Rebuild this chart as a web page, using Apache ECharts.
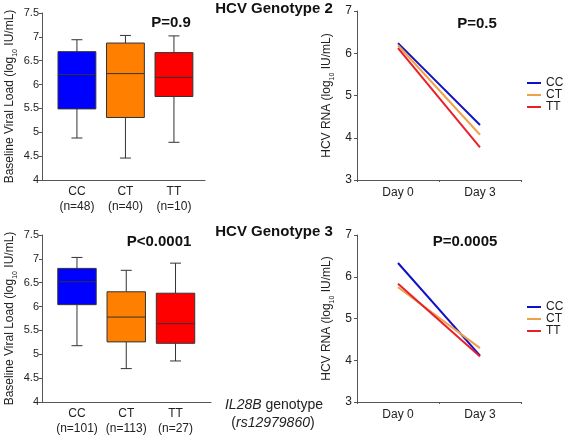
<!DOCTYPE html>
<html>
<head>
<meta charset="utf-8">
<script src="https://cdn.jsdelivr.net/npm/echarts@6/dist/echarts.min.js"></script>
<style>html,body{margin:0;padding:0;background:#fff}#c{width:563px;height:436px}</style>
</head>
<body>
<div id="c"></div>
<script>
// ---- data ----
const genotypes = ['CC', 'CT', 'TT'];
const g2Counts = ['n=48', 'n=40', 'n=10'];
const g3Counts = ['n=101', 'n=113', 'n=27'];
// [min, Q1, median, Q3, max]
const g2Box = [[4.88, 5.49, 6.21, 6.69, 6.94], [4.46, 5.31, 6.23, 6.87, 7.03], [4.79, 5.75, 6.15, 6.67, 7.02]];
const g3Box = [[5.18, 6.04, 6.52, 6.80, 7.03], [4.70, 5.26, 5.78, 6.31, 6.76], [4.86, 5.23, 5.64, 6.28, 6.91]];
const days = ['Day 0', 'Day 3'];
const g2CC = [6.24, 4.30], g2CT = [6.19, 4.07], g2TT = [6.12, 3.77];
const g3CC = [6.33, 4.11], g3CT = [5.75, 4.29], g3TT = [5.83, 4.09];
const boxTicks = [4, 4.5, 5, 5.5, 6, 6.5, 7, 7.5];
const rnaTicks = [3, 4, 5, 6, 7];

// ---- styles ----
const FONT = '"Liberation Sans", Arial, sans-serif';
const boxFill = ['#0000ff', '#ff8000', '#ff0000'];
const lineCol = ['#1010c8', '#f0a04a', '#e8202a'];
const axisCol = '#555';

const chart = echarts.init(document.getElementById('c'));

function boxData(stats) {
  return stats.map((s, i) => [i + 1].concat(s));
}
function boxSeries(idx, stats) {
  return {
    type: 'custom', xAxisIndex: idx, yAxisIndex: idx,
    data: boxData(stats),
    encode: { x: 0, y: [1, 2, 3, 4, 5] },
    renderItem: function (params, api) {
      const x = api.value(0);
      const p = [1, 2, 3, 4, 5].map(d => api.coord([x, api.value(d)]));
      const cx = p[0][0];
      const hw = api.size([0.78, 0])[0] / 2;
      const cw = 5.5;
      const col = boxFill[params.dataIndex];
      const ls = { stroke: '#333', lineWidth: 1 };
      return {
        type: 'group',
        children: [
          { type: 'line', shape: { x1: cx, y1: p[0][1], x2: cx, y2: p[1][1] }, style: ls },
          { type: 'line', shape: { x1: cx, y1: p[3][1], x2: cx, y2: p[4][1] }, style: ls },
          { type: 'line', shape: { x1: cx - cw, y1: p[0][1], x2: cx + cw, y2: p[0][1] }, style: ls },
          { type: 'line', shape: { x1: cx - cw, y1: p[4][1], x2: cx + cw, y2: p[4][1] }, style: ls },
          { type: 'rect', shape: { x: cx - hw, y: p[3][1], width: hw * 2, height: p[1][1] - p[3][1] },
            style: { fill: col, stroke: '#333', lineWidth: 1 } },
          { type: 'line', shape: { x1: cx - hw, y1: p[2][1], x2: cx + hw, y2: p[2][1] }, style: { stroke: '#333', lineWidth: 1 } }
        ]
      };
    }
  };
}

function boxXAxis(idx, counts, min, max) {
  return {
    type: 'value', gridIndex: idx, min: min, max: max,
    splitLine: { show: false },
    axisLine: { show: true, onZero: false, lineStyle: { color: axisCol } },
    axisTick: { show: false },
    axisLabel: {
      customValues: [1, 2, 3],
      formatter: v => '{a|' + genotypes[v - 1] + '}\n{a|(' + counts[v - 1] + ')}',
      rich: { a: { fontFamily: FONT, fontSize: 12, color: '#222', lineHeight: 15 } },
      margin: 4
    }
  };
}
function boxYAxis(idx) {
  return {
    type: 'value', gridIndex: idx, min: 4, max: 7.5, interval: 0.5,
    splitLine: { show: false },
    axisLine: { show: true, lineStyle: { color: axisCol } },
    axisTick: { show: true, length: 3, lineStyle: { color: axisCol } },
    axisLabel: { fontFamily: FONT, fontSize: 11, color: '#222', margin: 3, formatter: v => String(v) },
    name: '{a|Baseline Viral Load (log}{s|10}{a| IU/mL)}',
    nameLocation: 'middle', nameGap: 26, nameRotate: 90,
    nameTextStyle: {
      rich: {
        a: { fontFamily: FONT, fontSize: 12, color: '#222', lineHeight: 14, verticalAlign: 'bottom' },
        s: { fontFamily: FONT, fontSize: 7, color: '#222', lineHeight: 14, verticalAlign: 'bottom', padding: [0, 0, -3, 0] }
      }
    }
  };
}
function rnaXAxis(idx) {
  return {
    type: 'category', gridIndex: idx, data: days, boundaryGap: true,
    axisLine: { show: true, lineStyle: { color: axisCol } },
    axisTick: { show: true, length: 2, lineStyle: { color: axisCol } },
    axisLabel: { fontFamily: FONT, fontSize: 12, color: '#222', margin: 7 }
  };
}
function rnaYAxis(idx) {
  return {
    type: 'value', gridIndex: idx, min: 3, max: 7, interval: 1,
    splitLine: { show: false },
    axisLine: { show: true, lineStyle: { color: axisCol } },
    axisTick: { show: true, length: 3, lineStyle: { color: axisCol } },
    axisLabel: { fontFamily: FONT, fontSize: 12, color: '#222', margin: 5 },
    name: '{a|HCV RNA (log}{s|10}{a| IU/mL)}',
    nameLocation: 'middle', nameGap: 24, nameRotate: 90,
    nameTextStyle: {
      rich: {
        a: { fontFamily: FONT, fontSize: 12, color: '#222', lineHeight: 14, verticalAlign: 'bottom' },
        s: { fontFamily: FONT, fontSize: 7, color: '#222', lineHeight: 14, verticalAlign: 'bottom', padding: [0, 0, -3, 0] }
      }
    }
  };
}
function lineSeries(idx, name, vals, ci) {
  return {
    type: 'line', name: name, xAxisIndex: idx, yAxisIndex: idx, data: vals,
    symbol: 'none', lineStyle: { color: lineCol[ci], width: 2 }, itemStyle: { color: lineCol[ci] },
    silent: true, animation: false
  };
}
function legendAt(top) {
  return {
    orient: 'vertical', left: 527, top: top, padding: 0, itemWidth: 14, itemHeight: 2, itemGap: 0, icon: 'rect',
    data: genotypes, textStyle: { fontFamily: FONT, fontSize: 12, color: '#222', lineHeight: 10.5 }
  };
}

const option = {
  animation: false,
  textStyle: { fontFamily: FONT },
  grid: [
    { left: 42, top: 13, width: 163, height: 167 },
    { left: 357, top: 11, width: 164, height: 169 },
    { left: 42, top: 235, width: 169, height: 167 },
    { left: 357, top: 235, width: 164, height: 167 }
  ],
  xAxis: [
    boxXAxis(0, g2Counts, 0.28, 3.64),
    rnaXAxis(1),
    boxXAxis(2, g3Counts, 0.29, 3.72),
    rnaXAxis(3)
  ],
  yAxis: [boxYAxis(0), rnaYAxis(1), boxYAxis(2), rnaYAxis(3)],
  legend: [legendAt(77), legendAt(301)],
  series: [
    boxSeries(0, g2Box),
    lineSeries(1, 'CC', g2CC, 0), lineSeries(1, 'CT', g2CT, 1), lineSeries(1, 'TT', g2TT, 2),
    boxSeries(2, g3Box),
    lineSeries(3, 'CC', g3CC, 0), lineSeries(3, 'CT', g3CT, 1), lineSeries(3, 'TT', g3TT, 2)
  ],
  graphic: [
    { type: 'text', x: 274, y: 9, style: { text: 'HCV Genotype 2', font: 'bold 15px ' + FONT, fill: '#111', align: 'center', verticalAlign: 'middle' } },
    { type: 'text', x: 274, y: 232, style: { text: 'HCV Genotype 3', font: 'bold 15px ' + FONT, fill: '#111', align: 'center', verticalAlign: 'middle' } },
    { type: 'text', x: 171, y: 23, style: { text: 'P=0.9', font: 'bold 15px ' + FONT, fill: '#111', align: 'center', verticalAlign: 'middle' } },
    { type: 'text', x: 477, y: 24, style: { text: 'P=0.5', font: 'bold 15px ' + FONT, fill: '#111', align: 'center', verticalAlign: 'middle' } },
    { type: 'text', x: 159, y: 242, style: { text: 'P<0.0001', font: 'bold 15px ' + FONT, fill: '#111', align: 'center', verticalAlign: 'middle' } },
    { type: 'text', x: 465, y: 242, style: { text: 'P=0.0005', font: 'bold 15px ' + FONT, fill: '#111', align: 'center', verticalAlign: 'middle' } },
    { type: 'text', x: 274, y: 405, style: { text: '{i|IL28B}{n| genotype}', align: 'center', verticalAlign: 'middle',
        rich: { i: { fontFamily: FONT, fontStyle: 'italic', fontSize: 14, fill: '#222' }, n: { fontFamily: FONT, fontSize: 14, fill: '#222' } } } },
    { type: 'text', x: 273, y: 423, style: { text: '{n|(}{i|rs12979860}{n|)}', align: 'center', verticalAlign: 'middle',
        rich: { i: { fontFamily: FONT, fontStyle: 'italic', fontSize: 14, fill: '#222' }, n: { fontFamily: FONT, fontSize: 14, fill: '#222' } } } }
  ]
};
chart.setOption(option);
</script>
</body>
</html>
